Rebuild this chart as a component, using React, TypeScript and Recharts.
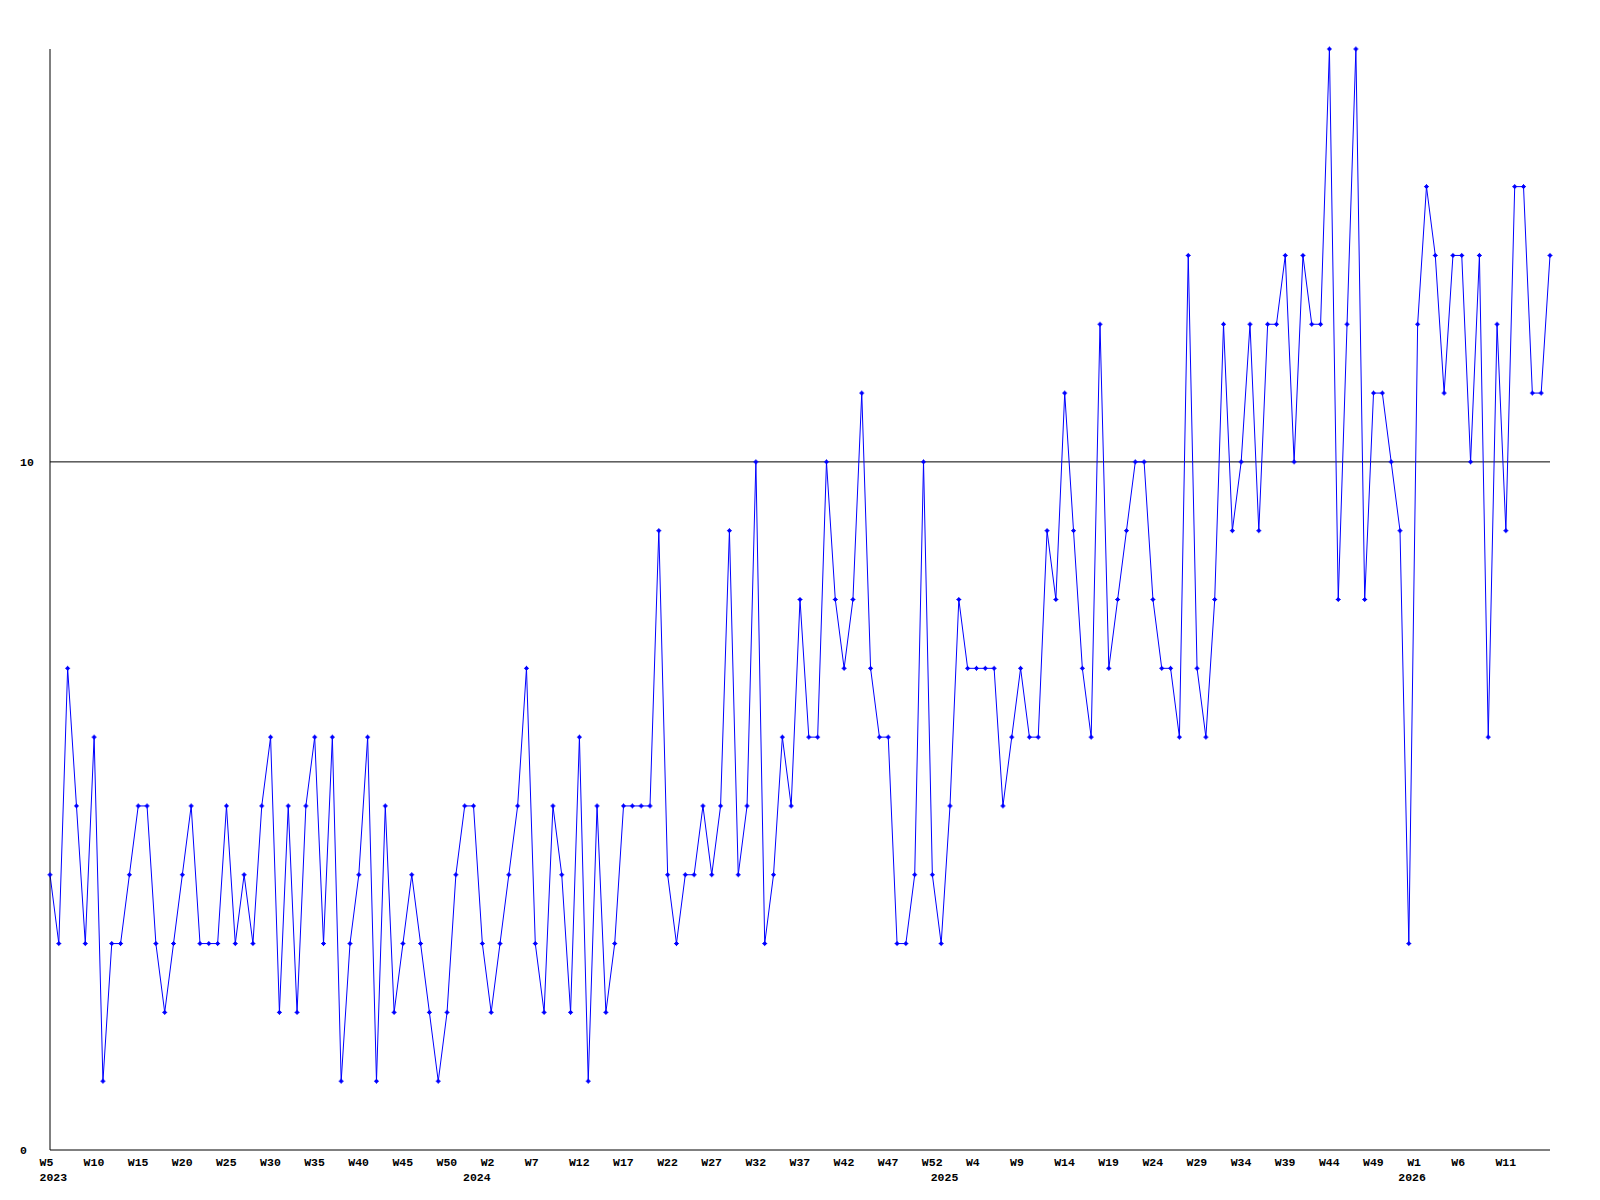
import { Line, LineChart, ReferenceLine, XAxis, YAxis } from "recharts";

// weekly counts, split by the year shown under the axis labels
const counts2023 = [
  4, 3, 7, 5, 3, 6, 1, 3, 3, 4, 5, 5, 3, 2, 3, 4, 5, 3, 3, 3, 5, 3, 4, 3, 5,
  6, 2, 5, 2, 5, 6, 3, 6, 1, 3, 4, 6, 1, 5, 2, 3, 4, 3, 2, 1, 2, 4, 5,
];
const counts2024 = [
  5, 3, 2, 3, 4, 5, 7, 3, 2, 5, 4, 2, 6, 1, 5, 2, 3, 5, 5, 5, 5, 9, 4, 3, 4,
  4, 5, 4, 5, 9, 4, 5, 10, 3, 4, 6, 5, 8, 6, 6, 10, 8, 7, 8, 11, 7, 6, 6, 3,
  3, 4, 10, 4,
];
const counts2025 = [
  3, 5, 8, 7, 7, 7, 7, 5, 6, 7, 6, 6, 9, 8, 11, 9, 7, 6, 12, 7, 8, 9, 10, 10,
  8, 7, 7, 6, 13, 7, 6, 8, 12, 9, 10, 12, 9, 12, 12, 13, 10, 13, 12, 12, 16,
  8, 12, 16, 8, 11, 11, 10, 9,
];
const counts2026 = [3, 12, 14, 13, 11, 13, 13, 10, 13, 6, 12, 9, 14, 14, 11, 11, 13];

const weekTicks = [
  "W5", "W10", "W15", "W20", "W25", "W30", "W35", "W40", "W45", "W50",
  "W2", "W7", "W12", "W17", "W22", "W27", "W32", "W37", "W42", "W47", "W52",
  "W4", "W9", "W14", "W19", "W24", "W29", "W34", "W39", "W44", "W49",
  "W1", "W6", "W11",
];
const yearLabels = ["2023", "2024", "2025", "2026"];
const yTicks = [0, 10];

const segments = [counts2023, counts2024, counts2025, counts2026];
const allCounts = segments.flat();
const data = allCounts.map((v, i) => ({ i, v }));

// first point of each year carries the year label
const yearPos: number[] = [];
let acc = 0;
for (const s of segments) {
  yearPos.push(acc);
  acc += s.length;
}
const weekPos = weekTicks.map((_, k) => k * 5);
const xTicks = Array.from(new Set([...weekPos, ...yearPos])).sort((a, b) => a - b);

const FONT = "'Liberation Mono', 'DejaVu Sans Mono', monospace";

function XTick({ x, y, payload }: any) {
  const wi = weekPos.indexOf(payload.value);
  const yi = yearPos.indexOf(payload.value);
  return (
    <g>
      {wi >= 0 && (
        <text x={x - 10.5} y={y + 16} fontFamily={FONT} fontWeight="bold" fontSize={11.5} fill="#000" textAnchor="start">
          {weekTicks[wi]}
        </text>
      )}
      {yi >= 0 && (
        <text x={x - 10.5} y={y + 31} fontFamily={FONT} fontWeight="bold" fontSize={11.5} fill="#000" textAnchor="start">
          {yearLabels[yi]}
        </text>
      )}
    </g>
  );
}

function YTick({ y, payload }: any) {
  return (
    <text x={20} y={y + 4} fontFamily={FONT} fontWeight="bold" fontSize={11.5} fill="#000" textAnchor="start">
      {payload.value}
    </text>
  );
}

function Marker({ cx, cy }: any) {
  if (cx == null || cy == null) return null;
  return (
    <g>
      <path d={`M${cx - 2.5},${cy}h5M${cx},${cy - 2.5}v5`} stroke="#0000ff" strokeWidth={1} />
      <rect x={cx - 1.5} y={cy - 1.5} width={3} height={3} fill="#0000ff" />
    </g>
  );
}

export default function App() {
  return (
    <div style={{ position: "absolute", left: 0, top: 0, background: "#fff" }}>
      <LineChart width={1600} height={1200} data={data} margin={{ top: 49, right: 50, left: 0, bottom: 0 }}>
        <XAxis
          dataKey="i"
          type="number"
          domain={[0, allCounts.length - 1]}
          ticks={xTicks}
          interval={0}
          tick={<XTick />}
          tickLine={false}
          tickSize={0}
          tickMargin={0}
          height={50}
          axisLine={{ stroke: "#000", strokeWidth: 1 }}
        />
        <YAxis
          type="number"
          domain={[0, 16]}
          ticks={yTicks}
          tick={<YTick />}
          tickLine={false}
          width={50}
          axisLine={{ stroke: "#000", strokeWidth: 1 }}
        />
        <ReferenceLine y={10} stroke="#000" strokeWidth={1} />
        <Line
          type="linear"
          dataKey="v"
          stroke="#0000ff"
          strokeWidth={1}
          dot={<Marker />}
          activeDot={false}
          isAnimationActive={false}
        />
      </LineChart>
    </div>
  );
}
